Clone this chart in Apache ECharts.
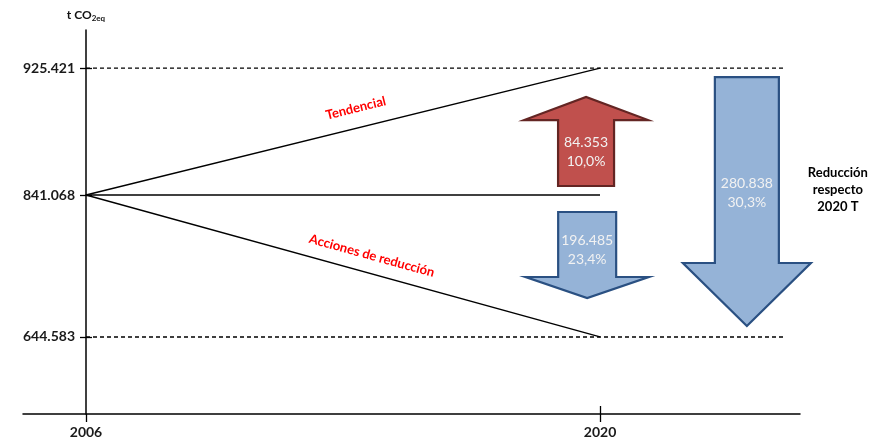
<!DOCTYPE html>
<html>
<head>
<meta charset="utf-8">
<script src="https://cdn.jsdelivr.net/npm/echarts@6/dist/echarts.min.js"></script>
<style>
  html, body { margin: 0; padding: 0; background: #fff; }
  #chart { width: 886px; height: 442px; }
</style>
</head>
<body>
<div id="chart"></div>
<script>
// Emisiones en t CO2eq: año base 2006 y escenarios a 2020
const YEARS = [2006, 2020];
const TENDENCIAL = [841068, 925421];   // escenario tendencial
const ACCIONES = [841068, 644583];     // escenario con acciones de reducción
const NIVEL_2006 = [841068, 841068];   // nivel del año base
const YEAR_TICKS = [2006, 2020];
const LEVEL_TICKS_UP = [925421];
const LEVEL_TICKS_DOWN = [841068, 644583];

const FONT = 'Lato, "Open Sans", sans-serif';
const BASE = TENDENCIAL[0];

// number with "." as thousands separator
function fmt(n) {
  return String(Math.round(n)).replace(/\B(?=(\d{3})+(?!\d))/g, '.');
}
function pct(v, ref) {
  return (v / ref * 100).toFixed(1).replace('.', ',') + '%';
}
function pairs(xs, ys) { return xs.map((x, i) => [x, ys[i]]); }

// x extent: 2006 sits on the vertical axis, the horizontal axis runs a bit left of it
const X_MIN = 2004.284, X_MAX = 2025.447;
const REF_END = 2025;          // where the dashed reference lines stop
const Y_OFFSET = -63;          // shifts the vertical axis onto 2006

const labelFont = { fontFamily: FONT, fontSize: 14, fontWeight: 'bold', color: '#1a1a1a' };
const axisLine = { show: true, onZero: false, lineStyle: { color: '#000', width: 1.5 } };

function yAxisPair(grid, min, max, ticks, withName) {
  const main = {
    type: 'value', gridIndex: grid, min: min, max: max, position: 'left', offset: Y_OFFSET,
    axisLine: axisLine,
    axisTick: { show: true, customValues: ticks, length: 6, lineStyle: { color: '#000', width: 1.3 } },
    axisLabel: Object.assign({ customValues: ticks, formatter: fmt, margin: 11 }, labelFont),
    splitLine: { show: false }
  };
  if (withName) {
    main.name = 't CO{s|2eq}';
    main.nameLocation = 'end';
    main.nameGap = 8;
    main.nameTextStyle = {
      fontFamily: FONT, fontSize: 12, fontWeight: 'bold', color: '#111', align: 'center',
      rich: { s: { fontFamily: FONT, fontSize: 8, fontWeight: 'bold', color: '#111', verticalAlign: 'bottom', padding: [6, 0, 0, 0] } }
    };
  }
  const inner = {
    type: 'value', gridIndex: grid, min: min, max: max, position: 'left', offset: Y_OFFSET,
    axisLine: { show: false },
    axisTick: { show: true, inside: true, customValues: ticks, length: 6, lineStyle: { color: '#000', width: 1.3 } },
    axisLabel: { show: false },
    splitLine: { show: false }
  };
  return [main, inner];
}

const upperY = yAxisPair(0, BASE, 950700, LEVEL_TICKS_UP, true);
const lowerY = yAxisPair(1, 538000, BASE, LEVEL_TICKS_DOWN, false);

const solid = { color: '#000', width: 1.3 };
const dashed = { color: '#000', width: 1.3, type: [4, 3] };

function trendLabel(text, padLeft, dist) {
  return {
    show: true, position: 'middle', formatter: text, distance: dist,
    color: '#ff0000', fontFamily: FONT, fontSize: 13, fontWeight: 'bold',
    padding: [0, 0, 0, padLeft]
  };
}

const option = {
  animation: false,
  backgroundColor: '#fff',
  grid: [
    { left: 23, right: 86, top: 30, bottom: 247, outerBoundsMode: 'none' },
    { left: 23, right: 86, top: 195, bottom: 28, outerBoundsMode: 'none' }
  ],
  xAxis: [
    { type: 'value', gridIndex: 0, min: X_MIN, max: X_MAX, show: false },
    {
      type: 'value', gridIndex: 1, min: X_MIN, max: X_MAX, position: 'bottom',
      axisLine: axisLine,
      axisTick: { show: true, customValues: YEAR_TICKS, length: 8, lineStyle: { color: '#000', width: 1.3 } },
      axisLabel: Object.assign({ customValues: YEAR_TICKS, formatter: v => String(v), margin: 11 }, labelFont),
      splitLine: { show: false }
    },
    {
      type: 'value', gridIndex: 1, min: X_MIN, max: X_MAX, position: 'bottom',
      axisLine: { show: false },
      axisTick: { show: true, inside: true, customValues: [YEAR_TICKS[1]], length: 8, lineStyle: { color: '#000', width: 1.3 } },
      axisLabel: { show: false },
      splitLine: { show: false }
    }
  ],
  yAxis: [upperY[0], lowerY[0], upperY[1], lowerY[1]],
  series: [
    {
      name: 'Tendencial', type: 'line', xAxisIndex: 0, yAxisIndex: 0,
      data: pairs(YEARS, TENDENCIAL), symbol: 'none', clip: false, lineStyle: solid, silent: true,
      markLine: {
        silent: true, symbol: ['none', 'none'], lineStyle: { color: 'rgba(0,0,0,0)', width: 0 },
        label: trendLabel('Tendencial', 36, 13),
        data: [[{ coord: [YEARS[0], TENDENCIAL[0]] }, { coord: [YEARS[1], TENDENCIAL[1]] }]]
      }
    },
    {
      name: 'ref-tendencial', type: 'line', xAxisIndex: 0, yAxisIndex: 0,
      data: [[YEARS[0], TENDENCIAL[1]], [REF_END, TENDENCIAL[1]]],
      symbol: 'none', clip: false, lineStyle: dashed, silent: true
    },
    {
      name: 'Acciones de reducción', type: 'line', xAxisIndex: 1, yAxisIndex: 1,
      data: pairs(YEARS, ACCIONES), symbol: 'none', clip: false, lineStyle: solid, silent: true,
      markLine: {
        silent: true, symbol: ['none', 'none'], lineStyle: { color: 'rgba(0,0,0,0)', width: 0 },
        label: trendLabel('Acciones de reducción', 50, 11),
        data: [[{ coord: [YEARS[0], ACCIONES[0]] }, { coord: [YEARS[1], ACCIONES[1]] }]]
      }
    },
    {
      name: 'Nivel 2006', type: 'line', xAxisIndex: 1, yAxisIndex: 1,
      data: pairs(YEARS, NIVEL_2006), symbol: 'none', clip: false, lineStyle: solid, silent: true
    },
    {
      name: 'ref-acciones', type: 'line', xAxisIndex: 1, yAxisIndex: 1,
      data: [[YEARS[0], ACCIONES[1]], [REF_END, ACCIONES[1]]],
      symbol: 'none', clip: false, lineStyle: dashed, silent: true
    }
  ]
};

const chart = echarts.init(document.getElementById('chart'), null, { renderer: 'canvas' });
chart.setOption(option);

// pixel helpers through the two stacked value axes
function yPx(v) {
  const g = v >= BASE ? 0 : 1;
  return chart.convertToPixel({ gridIndex: g }, [YEARS[0], v])[1];
}
function xPx(yr) {
  return chart.convertToPixel({ gridIndex: 1 }, [yr, ACCIONES[1]])[0];
}

// variation arrows: increase, reduction vs 2006, reduction vs 2020 trend
const arrows = [
  { from: TENDENCIAL[0], to: TENDENCIAL[1], ref: TENDENCIAL[0],
    year: 2019.62, insetFrom: 9, insetTo: 29, head: 23, shaft: 28, wing: 62, textDy: -1,
    fill: '#C0504D', stroke: '#632523' },
  { from: ACCIONES[0], to: ACCIONES[1], ref: ACCIONES[0],
    year: 2019.65, insetFrom: 17, insetTo: 39, head: 21, shaft: 29, wing: 61.5, textDy: 5.5,
    fill: '#95B3D7', stroke: '#2A5082' },
  { from: TENDENCIAL[1], to: ACCIONES[1], ref: TENDENCIAL[1],
    year: 2024, insetFrom: 9, insetTo: 11, head: 63, shaft: 32, wing: 64, textDy: 22.5,
    fill: '#95B3D7', stroke: '#2A5082',
    side: 'Reducción\nrespecto\n2020 T' }
];

const graphics = [];
arrows.forEach(a => {
  const y0 = yPx(a.from), y1 = yPx(a.to);
  const d = y1 > y0 ? 1 : -1;
  const tail = y0 + d * a.insetFrom;
  const tip = y1 - d * a.insetTo;
  const hb = tip - d * a.head;
  const cx = xPx(a.year);
  graphics.push({
    type: 'polygon', silent: true, z: 10,
    shape: { points: [
      [cx - a.shaft, tail], [cx + a.shaft, tail], [cx + a.shaft, hb], [cx + a.wing, hb],
      [cx, tip], [cx - a.wing, hb], [cx - a.shaft, hb]
    ] },
    style: { fill: a.fill, stroke: a.stroke, lineWidth: 2.2, lineJoin: 'miter' }
  });
  const ty = (tail + hb) / 2 + a.textDy;
  const v = Math.abs(a.to - a.from);
  graphics.push({
    type: 'text', silent: true, z: 11, x: cx, y: ty,
    style: {
      text: fmt(v) + '\n' + pct(v, a.ref), align: 'center', verticalAlign: 'middle',
      fill: '#f2f2f2', fontFamily: FONT, fontSize: 14, lineHeight: 19
    }
  });
  if (a.side) {
    graphics.push({
      type: 'text', silent: true, z: 11, x: cx + 91, y: ty - 2.5,
      style: {
        text: a.side, align: 'center', verticalAlign: 'middle',
        fill: '#000', fontFamily: FONT, fontSize: 13, fontWeight: 'bold', lineHeight: 17
      }
    });
  }
});
chart.setOption({ graphic: graphics });
</script>
</body>
</html>
